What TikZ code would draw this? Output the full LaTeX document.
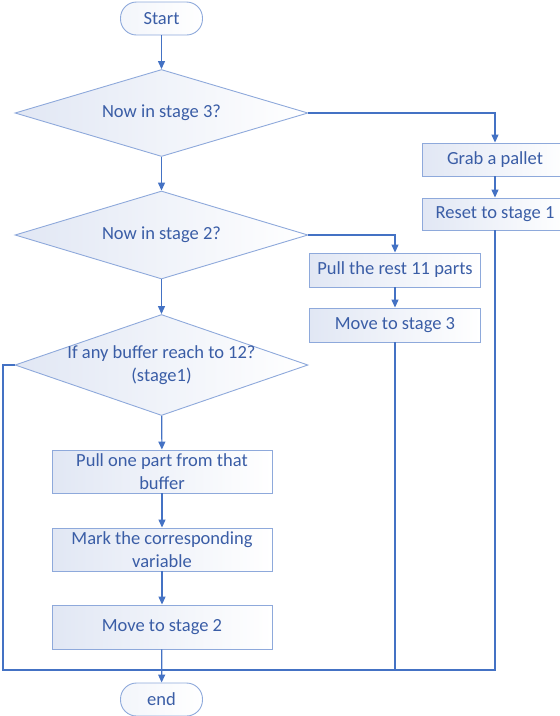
\documentclass[tikz,border=0pt]{standalone}
\usepackage{fontspec}
\setmainfont{Carlito}
\usetikzlibrary{shapes.geometric,arrows.meta,calc}
\definecolor{linec}{HTML}{4472C4}
\definecolor{edgec}{HTML}{8EA9DB}
\definecolor{textc}{HTML}{3A5DA6}
\definecolor{fillc}{HTML}{E1E7F4}
\begin{document}
\begin{tikzpicture}[x=1pt,y=-1pt,
  font=\fontsize{18.5}{23}\selectfont,
  every node/.style={text=textc},
  box/.style={draw=edgec, line width=0.9pt, left color=fillc, right color=white,
    inner sep=2pt, align=center},
  term/.style={draw=edgec, line width=0.9pt, left color=fillc!40, right color=white,
    rounded corners=16pt, minimum width=82pt, minimum height=33pt},
  decision/.style={diamond, draw=edgec, line width=0.9pt, left color=fillc,
    right color=white, minimum width=293pt, minimum height=#1, inner sep=0pt},
  flow/.style={draw=linec, line width=1.2pt, -{Triangle[length=8pt,width=7pt]}},
  link/.style={draw=linec, line width=1.2pt}]
\useasboundingbox (0,0) rectangle (560,716);

% main column
\node[term] (start) at (161.5,18.5) {Start};
\node[decision=87pt, label=center:{Now in stage 3?}] (d1) at (161.5,113) {};
\node[decision=88pt, label=center:{Now in stage 2?}] (d2) at (161.5,235) {};
\node[decision=101pt,
  label={[align=center]center:{If any buffer reach to 12?\\(stage1)}}] (d3) at (161.5,365) {};
\node[box, minimum width=220pt, minimum height=43pt] (b1) at (162,471.5)
  {Pull one part from that\\buffer};
\node[box, minimum width=220pt, minimum height=43pt] (b2) at (162,549.5)
  {Mark the corresponding\\variable};
\node[box, minimum width=220pt, minimum height=44pt] (b3) at (162,627) {Move to stage 2};
\node[term] (end) at (161.5,699.5) {end};

% stage 3 branch
\node[box, minimum width=146pt, minimum height=33pt] (grab) at (495,159.5) {Grab a pallet};
\node[box, minimum width=146pt, minimum height=32pt] (reset) at (495,214) {Reset to stage 1};

% stage 2 branch
\node[box, minimum width=171pt, minimum height=34pt] (pull) at (395,270) {Pull the rest 11 parts};
\node[box, minimum width=171pt, minimum height=34pt] (move3) at (395,325) {Move to stage 3};

% junction points
\coordinate (j) at (161.5,670);
\coordinate (lft) at (3,365);

% connectors
\draw[flow] (start) -- (d1);
\draw[flow] (d1) -- (d2);
\draw[flow] (d2) -- (d3);
\draw[flow] (d3) -- (b1);
\draw[flow] (b1) -- (b2);
\draw[flow] (b2) -- (b3);
\draw[flow] (b3) -- (end);
\draw[flow] (d1.east) -| (grab.north);
\draw[flow] (grab) -- (reset);
\draw[flow] (d2.east) -| (pull.north);
\draw[flow] (pull) -- (move3);
\draw[link] (reset.south) |- (j);
\draw[link] (move3.south) |- (j);
\draw[link] (d3.west) -- (lft) |- (j);
\end{tikzpicture}
\end{document}
